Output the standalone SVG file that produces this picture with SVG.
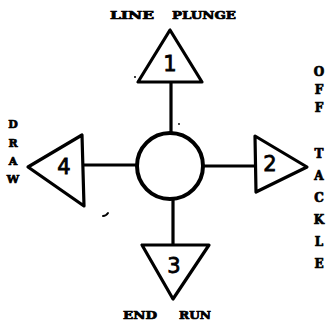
<svg xmlns="http://www.w3.org/2000/svg" width="332" height="326" viewBox="0 0 332 326">
<style>
.tri{fill:#fff;stroke:#000;stroke-width:3.2;stroke-linejoin:round}
.ln{stroke:#000;stroke-width:3.2;stroke-linecap:round;fill:none}
.num{font-family:"DejaVu Sans",sans-serif;font-size:21px;fill:#000;stroke:#000;stroke-width:0.8;text-anchor:middle}
.lbl{font-family:"DejaVu Serif",serif;font-weight:bold;font-size:11px;fill:#000;stroke:#000;stroke-width:0.7;text-anchor:middle}
.v{font-size:12px}
</style>
<rect width="332" height="326" fill="#fff"/>
<g id="connectors">
<line class="ln" x1="171" y1="83" x2="171" y2="133"/>
<line class="ln" x1="204" y1="166" x2="255" y2="166"/>
<line class="ln" x1="84" y1="165" x2="137" y2="165"/>
<line class="ln" x1="173" y1="199" x2="173" y2="245"/>
</g>
<g id="center">
<circle cx="170" cy="166" r="33" fill="#fff" stroke="#000" stroke-width="4"/>
</g>
<g id="n1">
<polygon class="tri" points="170,30 138,82 202,82"/>
<text class="num" x="170" y="71">1</text>
<text class="lbl" x="132" y="19" textLength="44" lengthAdjust="spacingAndGlyphs">LINE</text>
<text class="lbl" x="204" y="19" textLength="64" lengthAdjust="spacingAndGlyphs">PLUNGE</text>
</g>
<g id="n2">
<polygon class="tri" points="255,136 307,167 256,192"/>
<text class="num" x="270" y="171">2</text>
<text class="lbl v" x="319" y="76">O</text>
<text class="lbl v" x="319" y="94">F</text>
<text class="lbl v" x="319" y="112">F</text>
<text class="lbl v" x="319" y="158">T</text>
<text class="lbl v" x="319" y="180">A</text>
<text class="lbl v" x="319" y="202">C</text>
<text class="lbl v" x="319" y="224">K</text>
<text class="lbl v" x="319" y="246">L</text>
<text class="lbl v" x="319" y="268">E</text>
</g>
<g id="n3">
<polygon class="tri" points="142,245 209,245 173,299"/>
<text class="num" x="174" y="273">3</text>
<text class="lbl" x="140" y="319" textLength="34" lengthAdjust="spacingAndGlyphs">END</text>
<text class="lbl" x="195" y="319" textLength="32" lengthAdjust="spacingAndGlyphs">RUN</text>
</g>
<g id="n4">
<polygon class="tri" points="28,167 82,135 84,206"/>
<text class="num" x="64" y="174">4</text>
<text class="lbl" x="13" y="128">D</text>
<text class="lbl" x="13" y="147">R</text>
<text class="lbl" x="13" y="165">A</text>
<text class="lbl" x="13" y="183">W</text>
</g>
<path d="M108,213 q-2,3 -5,3" fill="none" stroke="#000" stroke-width="2" stroke-linecap="round"/>
<circle cx="135" cy="77" r="1" fill="#000"/>
<circle cx="179" cy="124" r="0.9" fill="#000"/>
</svg>
